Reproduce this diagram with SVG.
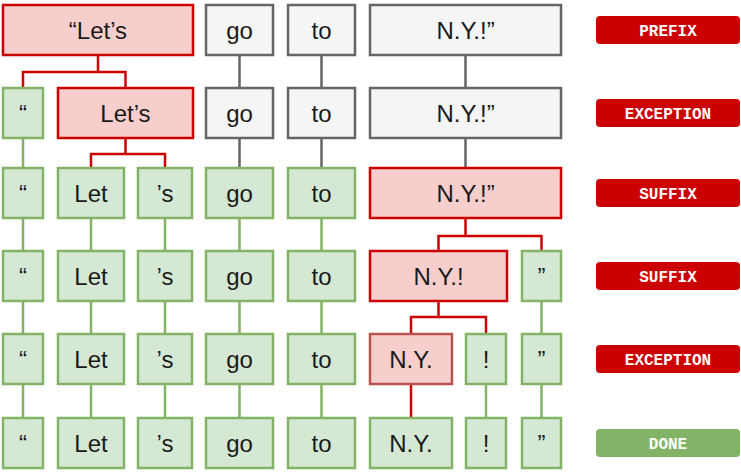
<svg xmlns="http://www.w3.org/2000/svg" width="741" height="475" viewBox="0 0 741 475">
<style>
rect.n{stroke-width:2.5}
.red{fill:#f8cecc;stroke:#cc0000}
.red2{fill:#f8cecc;stroke:#b85450}
.grn{fill:#d5e8d4;stroke:#82b366}
.gry{fill:#f5f5f5;stroke:#666666}
text.t{font-family:"Liberation Sans",Arial,sans-serif;font-size:24px;fill:#1a1a1a;text-anchor:middle}
text.l{font-family:"Liberation Mono","DejaVu Sans Mono",monospace;font-size:16px;font-weight:bold;fill:#ffffff;text-anchor:middle}
path.c{fill:none;stroke-width:2.5}
.cr{stroke:#cc0000}
.cg{stroke:#82b366}
.cy{stroke:#666666}
</style>
<g id="connectors">
<path class="c cr" d="M98 56V72M23 88V72H125.5V88"/>
<path class="c cy" d="M239.5 56V88M321.5 56V88M465.5 56V88"/>
<path class="c cg" d="M23 139V168"/>
<path class="c cr" d="M125.5 139V154M91 168V154H165V168"/>
<path class="c cy" d="M239.5 139V168M321.5 139V168M465.5 139V168"/>
<path class="c cg" d="M23 219V251M91 219V251M165 219V251M239.5 219V251M321.5 219V251"/>
<path class="c cr" d="M465.5 219V236M438.5 251V236H541.5V251"/>
<path class="c cg" d="M23 302V334M91 302V334M165 302V334M239.5 302V334M321.5 302V334M541.5 302V334"/>
<path class="c cr" d="M438.5 302V317M411 334V317H486V334"/>
<path class="c cg" d="M23 385V418M91 385V418M165 385V418M239.5 385V418M321.5 385V418M486 385V418M541.5 385V418"/>
<path class="c cr" d="M411 385V418"/>
</g>
<g id="r1-lets"><rect class="n red" x="3" y="5" width="190" height="50"/><text class="t" x="98" y="38.5">“Let’s</text></g>
<g id="r1-go"><rect class="n gry" x="206" y="5" width="67" height="50"/><text class="t" x="239.5" y="38.5">go</text></g>
<g id="r1-to"><rect class="n gry" x="288" y="5" width="67" height="50"/><text class="t" x="321.5" y="38.5">to</text></g>
<g id="r1-ny"><rect class="n gry" x="370" y="5" width="191" height="50"/><text class="t" x="465.5" y="38.5">N.Y.!”</text></g>

<g id="r2-q"><rect class="n grn" x="3" y="88" width="40" height="50"/><text class="t" x="23" y="121.5">“</text></g>
<g id="r2-lets"><rect class="n red" x="58" y="88" width="135" height="50"/><text class="t" x="125.5" y="121.5">Let’s</text></g>
<g id="r2-go"><rect class="n gry" x="206" y="88" width="67" height="50"/><text class="t" x="239.5" y="121.5">go</text></g>
<g id="r2-to"><rect class="n gry" x="288" y="88" width="67" height="50"/><text class="t" x="321.5" y="121.5">to</text></g>
<g id="r2-ny"><rect class="n gry" x="370" y="88" width="191" height="50"/><text class="t" x="465.5" y="121.5">N.Y.!”</text></g>

<g id="r3-q"><rect class="n grn" x="3" y="168" width="40" height="50"/><text class="t" x="23" y="201.5">“</text></g>
<g id="r3-let"><rect class="n grn" x="58" y="168" width="66" height="50"/><text class="t" x="91" y="201.5">Let</text></g>
<g id="r3-s"><rect class="n grn" x="138" y="168" width="54" height="50"/><text class="t" x="165" y="201.5">’s</text></g>
<g id="r3-go"><rect class="n grn" x="206" y="168" width="67" height="50"/><text class="t" x="239.5" y="201.5">go</text></g>
<g id="r3-to"><rect class="n grn" x="288" y="168" width="67" height="50"/><text class="t" x="321.5" y="201.5">to</text></g>
<g id="r3-ny"><rect class="n red" x="370" y="168" width="191" height="50"/><text class="t" x="465.5" y="201.5">N.Y.!”</text></g>

<g id="r4-q"><rect class="n grn" x="3" y="251" width="40" height="50"/><text class="t" x="23" y="284.5">“</text></g>
<g id="r4-let"><rect class="n grn" x="58" y="251" width="66" height="50"/><text class="t" x="91" y="284.5">Let</text></g>
<g id="r4-s"><rect class="n grn" x="138" y="251" width="54" height="50"/><text class="t" x="165" y="284.5">’s</text></g>
<g id="r4-go"><rect class="n grn" x="206" y="251" width="67" height="50"/><text class="t" x="239.5" y="284.5">go</text></g>
<g id="r4-to"><rect class="n grn" x="288" y="251" width="67" height="50"/><text class="t" x="321.5" y="284.5">to</text></g>
<g id="r4-ny"><rect class="n red" x="370" y="251" width="137" height="50"/><text class="t" x="438.5" y="284.5">N.Y.!</text></g>
<g id="r4-cq"><rect class="n grn" x="522" y="251" width="39" height="50"/><text class="t" x="541.5" y="284.5">”</text></g>

<g id="r5-q"><rect class="n grn" x="3" y="334" width="40" height="50"/><text class="t" x="23" y="367.5">“</text></g>
<g id="r5-let"><rect class="n grn" x="58" y="334" width="66" height="50"/><text class="t" x="91" y="367.5">Let</text></g>
<g id="r5-s"><rect class="n grn" x="138" y="334" width="54" height="50"/><text class="t" x="165" y="367.5">’s</text></g>
<g id="r5-go"><rect class="n grn" x="206" y="334" width="67" height="50"/><text class="t" x="239.5" y="367.5">go</text></g>
<g id="r5-to"><rect class="n grn" x="288" y="334" width="67" height="50"/><text class="t" x="321.5" y="367.5">to</text></g>
<g id="r5-ny"><rect class="n red2" x="370" y="334" width="82" height="50"/><text class="t" x="411" y="367.5">N.Y.</text></g>
<g id="r5-ex"><rect class="n grn" x="466" y="334" width="40" height="50"/><text class="t" x="486" y="367.5">!</text></g>
<g id="r5-cq"><rect class="n grn" x="522" y="334" width="39" height="50"/><text class="t" x="541.5" y="367.5">”</text></g>

<g id="r6-q"><rect class="n grn" x="3" y="418" width="40" height="50"/><text class="t" x="23" y="451.5">“</text></g>
<g id="r6-let"><rect class="n grn" x="58" y="418" width="66" height="50"/><text class="t" x="91" y="451.5">Let</text></g>
<g id="r6-s"><rect class="n grn" x="138" y="418" width="54" height="50"/><text class="t" x="165" y="451.5">’s</text></g>
<g id="r6-go"><rect class="n grn" x="206" y="418" width="67" height="50"/><text class="t" x="239.5" y="451.5">go</text></g>
<g id="r6-to"><rect class="n grn" x="288" y="418" width="67" height="50"/><text class="t" x="321.5" y="451.5">to</text></g>
<g id="r6-ny"><rect class="n grn" x="370" y="418" width="82" height="50"/><text class="t" x="411" y="451.5">N.Y.</text></g>
<g id="r6-ex"><rect class="n grn" x="466" y="418" width="40" height="50"/><text class="t" x="486" y="451.5">!</text></g>
<g id="r6-cq"><rect class="n grn" x="522" y="418" width="39" height="50"/><text class="t" x="541.5" y="451.5">”</text></g>

<g id="lbl1"><rect x="596" y="16" width="144" height="28" rx="4" fill="#cc0000"/><text class="l" x="668" y="35.5">PREFIX</text></g>
<g id="lbl2"><rect x="596" y="99" width="144" height="28" rx="4" fill="#cc0000"/><text class="l" x="668" y="118.5">EXCEPTION</text></g>
<g id="lbl3"><rect x="596" y="179" width="144" height="28" rx="4" fill="#cc0000"/><text class="l" x="668" y="198.5">SUFFIX</text></g>
<g id="lbl4"><rect x="596" y="262" width="144" height="28" rx="4" fill="#cc0000"/><text class="l" x="668" y="281.5">SUFFIX</text></g>
<g id="lbl5"><rect x="596" y="345" width="144" height="28" rx="4" fill="#cc0000"/><text class="l" x="668" y="364.5">EXCEPTION</text></g>
<g id="lbl6"><rect x="596" y="429" width="144" height="28" rx="4" fill="#82b366"/><text class="l" x="668" y="448.5">DONE</text></g>
</svg>
